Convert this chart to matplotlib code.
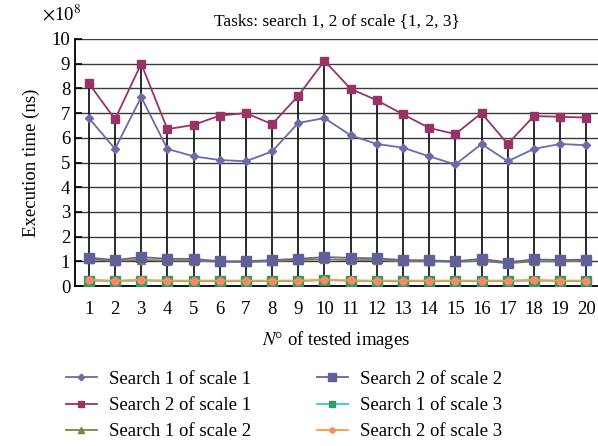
import numpy as np
import matplotlib.pyplot as plt
from matplotlib.lines import Line2D

images = list(range(1, 21))

s1_scale1 = [6.8, 5.55, 7.65, 5.55, 5.25, 5.1, 5.05, 5.45, 6.6, 6.8,
             6.1, 5.75, 5.6, 5.25, 4.92, 5.75, 5.05, 5.55, 5.75, 5.7]
s2_scale1 = [8.2, 6.75, 9.0, 6.35, 6.52, 6.9, 7.0, 6.55, 7.7, 9.12,
             7.98, 7.52, 6.95, 6.4, 6.15, 7.0, 5.75, 6.88, 6.85, 6.82]
s1_scale2 = [1.08, 1.02, 1.06, 1.03, 1.03, 0.98, 0.97, 1.0, 1.05, 1.08,
             1.05, 1.05, 1.0, 1.0, 0.98, 1.02, 0.92, 1.0, 1.0, 1.02]
s2_scale2 = [1.15, 1.05, 1.17, 1.1, 1.1, 1.0, 1.0, 1.05, 1.1, 1.17,
             1.14, 1.12, 1.05, 1.04, 1.0, 1.1, 0.95, 1.08, 1.05, 1.07]
s1_scale3 = [0.22, 0.2, 0.22, 0.2, 0.2, 0.2, 0.2, 0.2, 0.2, 0.24,
             0.21, 0.2, 0.2, 0.2, 0.2, 0.2, 0.2, 0.22, 0.2, 0.2]
s2_scale3 = [0.25, 0.22, 0.25, 0.22, 0.22, 0.22, 0.22, 0.22, 0.22, 0.25,
             0.23, 0.22, 0.22, 0.22, 0.22, 0.22, 0.22, 0.25, 0.22, 0.22]

series = [
    ("Search 1 of scale 1", s1_scale1, "#6B6BA8", "D", "#6B6BA8", 4.5),
    ("Search 2 of scale 1", s2_scale1, "#993366", "s", "#993366", 6),
    ("Search 1 of scale 2", s1_scale2, "#808040", "^", "#808040", 6),
    ("Search 2 of scale 2", s2_scale2, "#66669E", "s", "#5F5F99", 7.5),
    ("Search 1 of scale 3", s1_scale3, "#33CCCC", "s", "#339966", 6.5),
    ("Search 2 of scale 3", s2_scale3, "#FF9933", "o", "#FF8866", 5),
]

plt.rcParams['font.family'] = ['Liberation Serif', 'DejaVu Serif']
plt.rcParams['mathtext.fontset'] = 'stix'

fig = plt.figure(figsize=(5.98, 4.46), dpi=100)
ax = fig.add_axes([0.1254, 0.3587, 0.8746, 0.5539])

ax.set_ylim(0, 10)
ax.set_xlim(0.47, 20.45)
for yv in range(1, 11):
    ax.axhline(yv, color='#3a3a3a', lw=1.0, zorder=1)

# high-low lines
tops = np.max([s1_scale1, s2_scale1, s1_scale2, s2_scale2, s1_scale3, s2_scale3], axis=0)
ax.vlines(images, 0, tops, color='#1a1a1a', lw=1.3, zorder=2)

order = [2, 3, 0, 1, 4, 5]
for i in order:
    name, vals, col, mk, mcol, ms = series[i]
    ax.plot(images, vals, color=col, marker=mk, markerfacecolor=mcol,
            markeredgecolor=mcol, markersize=ms, lw=1.3, zorder=3 + i)

ax.set_xticks(images)
ax.set_yticks(range(0, 11))
ax.tick_params(axis='x', length=0, labelsize=13.5, pad=11)
ax.tick_params(axis='y', length=5, direction='in', labelsize=13.5, width=1.2)
for side in ['top', 'right']:
    ax.spines[side].set_visible(False)
ax.spines['left'].set_linewidth(1.3)
ax.spines['bottom'].set_linewidth(1.3)

ax.set_ylabel('Execution time (ns)', fontsize=13.5, labelpad=8)
ax.set_xlabel(r'$N$° of tested images', fontsize=13.5, labelpad=8)
ax.set_title('Tasks: search 1, 2 of scale {1, 2, 3}', fontsize=12.5, pad=10)
fig.text(0.07, 0.955, r'$\times$10$^8$', fontsize=13.5)

handles = []
for name, vals, col, mk, mcol, ms in series:
    handles.append(Line2D([], [], color=col, marker=mk, markerfacecolor=mcol,
                          markeredgecolor=mcol, markersize=ms * 0.75, lw=1.3, label=name))
leg = fig.legend(handles=handles, ncol=2,
                 loc='lower left', bbox_to_anchor=(0.082, -0.025), frameon=False,
                 fontsize=13.5, handlelength=1.65, columnspacing=3.5,
                 labelspacing=0.48, handletextpad=0.65)

fig.savefig('out.png', dpi=100)
